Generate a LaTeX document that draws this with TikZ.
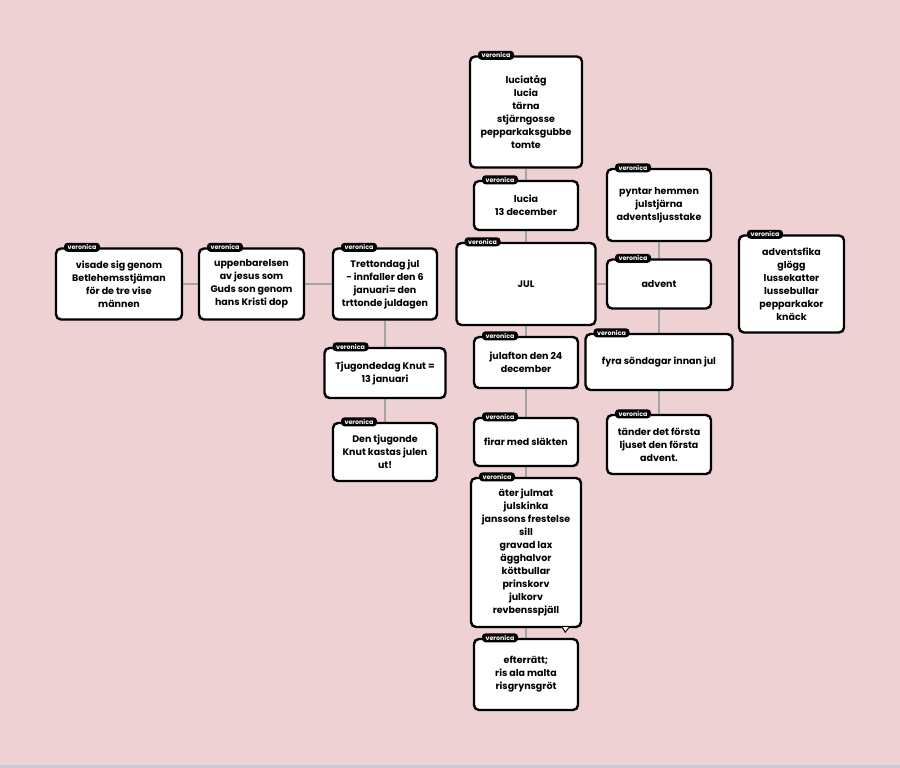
\documentclass[tikz,border=0pt]{standalone}
\usepackage{fontspec}
\setmainfont{Poppins}
\usepackage{tikz}
\definecolor{paper}{HTML}{EED1D3}
\definecolor{strip}{HTML}{C9CAD6}
\definecolor{linkgray}{HTML}{A3A3A3}
\tikzstyle{note}=[fill=white, draw=black, line width=2.4pt, rounded corners=5pt, align=center, inner sep=2pt, font=\bfseries\fontsize{9.5}{13}\selectfont]
\tikzstyle{tag}=[fill=black, text=white, rounded corners=3.5pt, inner sep=0pt, minimum width=36pt, minimum height=9pt, anchor=west, font=\bfseries\fontsize{6.3}{7}\selectfont]
\tikzstyle{link}=[-, draw=linkgray, line width=2pt]
\pgfdeclarelayer{nodelayer}
\pgfdeclarelayer{edgelayer}
\pgfsetlayers{main,edgelayer,nodelayer}

\begin{document}
\begin{tikzpicture}[x=1pt, y=-1pt]
    	\fill [paper] (0,0) rectangle (900,768);
    	\fill [strip] (0,765) rectangle (900,768);
    	\begin{pgfonlayer}{nodelayer}
    		\node [style=note, minimum width=112pt, minimum height=111pt] (0) at (526,112) {luciatåg\\lucia\\tärna\\stjärngosse\\pepparkaksgubbe\\tomte};
    		\node [style=note, minimum width=104pt, minimum height=49pt] (1) at (526,205.5) {lucia\\13 december};
    		\node [style=note, minimum width=139pt, minimum height=82pt] (2) at (526,284) {JUL};
    		\node [style=note, minimum width=104pt, minimum height=51pt] (3) at (526,362.5) {julafton den 24\\december};
    		\node [style=note, minimum width=104pt, minimum height=48pt] (4) at (526,442) {firar med släkten};
    		\node [style=note, minimum width=110pt, minimum height=149pt] (5) at (526,552.5) {äter julmat\\julskinka\\janssons frestelse\\sill\\gravad lax\\ägghalvor\\köttbullar\\prinskorv\\julkorv\\revbensspjäll};
    		\node [style=note, minimum width=104pt, minimum height=71pt] (6) at (526,674.5) {efterrätt;\\ris ala malta\\risgrynsgröt};
    		\node [style=note, minimum width=104pt, minimum height=71pt] (7) at (385,284) {Trettondag jul\\- innfaller den 6\\januari= den\\trttonde juldagen};
    		\node [style=note, minimum width=105pt, minimum height=71pt] (8) at (251.5,284) {uppenbarelsen\\av jesus som\\Guds son genom\\hans Kristi dop};
    		\node [style=note, minimum width=126pt, minimum height=71pt] (9) at (119,284) {visade sig genom\\Betlehemsstjäman\\för de tre vise\\männen};
    		\node [style=note, minimum width=121pt, minimum height=50pt] (10) at (385,373) {Tjugondedag Knut =\\13 januari};
    		\node [style=note, minimum width=104pt, minimum height=58pt] (11) at (385,452) {Den tjugonde\\Knut kastas julen\\ut!};
    		\node [style=note, minimum width=104pt, minimum height=72pt] (12) at (659,205) {pyntar hemmen\\julstjärna\\adventsljusstake};
    		\node [style=note, minimum width=104pt, minimum height=49pt] (13) at (659,284) {advent};
    		\node [style=note, minimum width=105pt, minimum height=97pt] (14) at (791.5,284) {adventsfika\\glögg\\lussekatter\\lussebullar\\pepparkakor\\knäck};
    		\node [style=note, minimum width=147pt, minimum height=56pt] (15) at (659,362) {fyra söndagar innan jul};
    		\node [style=note, minimum width=104pt, minimum height=59pt] (16) at (659,444.5) {tänder det första\\ljuset den första\\advent.};
    		\foreach \n in {0,...,16}
    			\node [style=tag] (t\n) at ([xshift=9pt]\n.north west) {veronica};
    		\draw [fill=white, draw=black, line width=1pt] ([xshift=-20pt, yshift=1pt]5.south east) -- ([xshift=-17pt, yshift=-4pt]5.south east) -- ([xshift=-13pt, yshift=1pt]5.south east);
    	\end{pgfonlayer}
    	\begin{pgfonlayer}{edgelayer}
    		\draw [style=link] (0) to (1);
    		\draw [style=link] (1) to (2);
    		\draw [style=link] (2) to (3);
    		\draw [style=link] (3) to (4);
    		\draw [style=link] (4) to (5);
    		\draw [style=link] (5) to (6);
    		\draw [style=link] (2) to (13);
    		\draw [style=link] (13) to (12);
    		\draw [style=link] (13) to (15);
    		\draw [style=link] (15) to (16);
    		\draw [style=link] (7) to (8);
    		\draw [style=link] (8) to (9);
    		\draw [style=link] (7) to (10);
    		\draw [style=link] (10) to (11);
    	\end{pgfonlayer}
\end{tikzpicture}
\end{document}
